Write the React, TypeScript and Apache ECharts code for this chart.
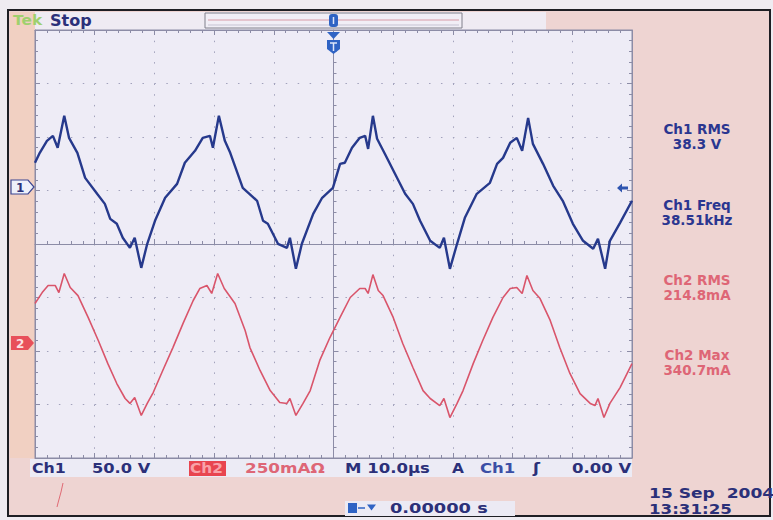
import React, { useEffect, useRef } from 'react';
import * as echarts from 'echarts';

// Ch1 trace: time (µs, trigger at 0) and voltage (V)
const ch1Time = [
  -50.0, -49.2, -48.0, -47.0, -46.2, -45.1, -44.3, -42.9, -41.6, -39.6,
  -38.3, -37.4, -36.3, -35.3, -34.1, -33.3, -32.2, -31.2, -29.9, -28.2,
  -26.2, -24.9, -23.2, -21.9, -20.7, -20.2, -19.2, -18.2, -17.3, -15.2,
  -12.8, -11.8, -11.0, -9.3, -7.8, -7.3, -6.3, -5.3, -3.4, -1.9,
  -0.1, 1.1, 1.9, 3.1, 4.4, 5.3, 5.8, 6.6, 7.3, 8.6,
  10.3, 12.0, 13.3, 14.5, 16.2, 17.8, 18.5, 19.5, 20.7, 22.0,
  24.0, 26.2, 27.4, 28.4, 29.6, 30.7, 31.6, 32.6, 33.4, 35.1,
  36.8, 38.4, 40.1, 41.8, 43.5, 44.3, 45.5, 46.3, 48.0, 50.0,
];
const ch1Volts = [
  23.4, 32.7, 43.9, 48.6, 37.4, 67.3, 46.7, 32.7, 9.3, -5.6,
  -15.0, -29.0, -33.6, -46.7, -56.1, -46.7, -74.8, -52.3, -30.8, -9.3,
  3.7, 23.4, 34.6, 46.7, 48.6, 37.4, 67.3, 43.9, 32.7, 0,
  -12.1, -30.8, -33.6, -52.3, -56.1, -46.7, -75.7, -52.3, -24.3, -9.3,
  0, 22.4, 23.4, 37.4, 46.7, 48.6, 36.4, 67.3, 45.8, 31.8,
  13.1, -5.6, -15.0, -30.8, -49.5, -56.1, -46.7, -75.7, -52.3, -28.0,
  -5.6, 4.7, 22.4, 28.0, 42.1, 46.7, 34.6, 65.4, 41.1, 22.4,
  1.9, -12.1, -33.6, -49.5, -57.0, -47.7, -75.7, -49.5, -32.7, -12.1,
];

// Ch2 trace: time (µs) and current (mA)
const ch2Time = [
  -50.0, -48.8, -47.8, -46.6, -46.0, -45.1, -44.1, -42.8, -41.1, -39.4,
  -37.8, -36.3, -34.9, -34.1, -33.3, -32.2, -31.2, -30.2, -28.6, -26.9,
  -25.2, -23.5, -22.4, -21.2, -20.4, -19.4, -18.3, -16.5, -14.8, -14.0,
  -12.3, -10.6, -9.0, -7.8, -7.3, -6.3, -5.1, -3.9, -2.3, -0.6,
  1.1, 2.8, 4.4, 5.3, 5.8, 6.6, 7.5, 8.3, 10.0, 11.6,
  13.3, 15.0, 16.2, 17.8, 18.5, 19.5, 20.7, 21.7, 23.4, 25.0,
  26.7, 28.4, 29.6, 30.7, 31.6, 32.4, 33.4, 34.6, 36.3, 37.9,
  39.6, 41.3, 43.0, 43.8, 44.3, 45.3, 46.3, 48.0, 50.0,
];
const ch2MilliAmps = [
  187, 238, 271, 271, 238, 327, 262, 224, 122, 14,
  -94, -187, -257, -280, -252, -336, -280, -229, -126, -19,
  94, 201, 257, 271, 234, 327, 257, 187, 61, -19,
  -126, -220, -276, -280, -257, -336, -280, -220, -79, 28,
  122, 215, 257, 257, 234, 322, 248, 224, 122, 0,
  -112, -220, -257, -290, -257, -346, -280, -220, -94, 14,
  122, 215, 257, 262, 234, 318, 248, 210, 108, -19,
  -140, -234, -280, -290, -257, -346, -280, -206, -94,
];

const measurementLabels = ['Ch1 RMS', 'Ch1 Freq', 'Ch2 RMS', 'Ch2 Max'];
const measurementValues = ['38.3 V', '38.51kHz', '214.8mA', '340.7mA'];

const ch1VoltsPerDiv = 50;
const ch2MilliAmpsPerDiv = 250;
const ch1GroundDiv = 1.05;
const ch2GroundDiv = -1.86;

const NAVY = '#2b3079';
const RED_TXT = '#de6676';
const FONT = '"DejaVu Sans", Verdana, sans-serif';

function txt(text: string, x: number, y: number, fill: string, size: number, scaleX = 1, align = 'left') {
  return {
    type: 'text',
    x,
    y,
    scaleX,
    z: 20,
    style: {
      text,
      fill,
      fontSize: size,
      fontWeight: 'bold',
      fontFamily: FONT,
      align,
      textAlign: align,
      verticalAlign: 'middle',
      textVerticalAlign: 'middle',
    },
  };
}

export default function App() {
  const ref = useRef<HTMLDivElement>(null);
  useEffect(() => {
    if (!ref.current) return;
    const chart = echarts.init(ref.current, null, { renderer: 'svg' });

    const ch1Data = ch1Time.map((t, i) => [t, ch1Volts[i] / ch1VoltsPerDiv + ch1GroundDiv]);
    const ch2Data = ch2Time.map((t, i) => [t, ch2MilliAmps[i] / ch2MilliAmpsPerDiv + ch2GroundDiv]);

    const axisColor = '#8c8ca6';
    const gridDot = '#a2a2bc';
    const baseX = { type: 'value', min: -50, max: 50, interval: 10, axisLabel: { show: false } };
    const baseY = { type: 'value', min: -4, max: 4, interval: 1, axisLabel: { show: false } };
    const tick = { show: true, inside: true, length: 5, lineStyle: { color: axisColor } };
    const minor = { show: true, splitNumber: 5, length: 3, lineStyle: { color: axisColor } };

    const graphics: any[] = [];
    // frame background
    graphics.push({ type: 'rect', z: -10, shape: { x: 8, y: 10, width: 762, height: 506 }, style: { fill: '#eed4d2', stroke: '#1e1e24', lineWidth: 2 } });
    // top strip
    graphics.push({ type: 'rect', z: -9, shape: { x: 35, y: 12, width: 511, height: 18 }, style: { fill: '#efebf3' } });
    // left peach strip
    graphics.push({ type: 'rect', z: -9, shape: { x: 10, y: 12, width: 25, height: 446 }, style: { fill: '#f1d0c2' } });
    // record view box
    graphics.push({ type: 'rect', z: -8, shape: { x: 205, y: 13, width: 257, height: 15 }, style: { fill: '#f1eef6', stroke: '#80808c', lineWidth: 1 } });
    graphics.push({ type: 'line', z: -7, shape: { x1: 208, y1: 20, x2: 459, y2: 20 }, style: { stroke: '#d89aa6', lineWidth: 1 } });
    graphics.push({ type: 'line', z: -7, shape: { x1: 208, y1: 25, x2: 459, y2: 25 }, style: { stroke: '#c6c3d3', lineWidth: 1 } });
    // status bar
    graphics.push({ type: 'rect', z: -9, shape: { x: 30, y: 459, width: 602, height: 18 }, style: { fill: '#ecebf5' } });
    graphics.push({ type: 'rect', z: -8, shape: { x: 189, y: 461, width: 37, height: 15 }, style: { fill: '#e8454f' } });
    // bottom time box
    graphics.push({ type: 'rect', z: -9, shape: { x: 345, y: 501, width: 170, height: 15 }, style: { fill: '#eceaf4' } });

    // header texts
    graphics.push(txt('Tek', 13, 20, '#9fd06e', 14, 1.1));
    graphics.push(txt('Stop', 50, 20, NAVY, 16, 1));

    // trigger position markers
    graphics.push({ type: 'rect', z: 20, shape: { x: 329, y: 14, width: 9, height: 13, r: 3 }, style: { fill: '#2f63c4' } });
    graphics.push({ type: 'line', z: 21, shape: { x1: 333.5, y1: 17, x2: 333.5, y2: 24 }, style: { stroke: '#dfe6fa', lineWidth: 1.5 } });
    graphics.push({ type: 'polygon', z: 20, shape: { points: [[327, 32], [340, 32], [333.5, 39]] }, style: { fill: '#2f63c4' } });
    graphics.push({ type: 'polygon', z: 20, shape: { points: [[327, 40], [340, 40], [340, 49], [333.5, 54], [327, 49]] }, style: { fill: '#2f63c4' } });
    graphics.push({ type: 'line', z: 21, shape: { x1: 330, y1: 43, x2: 337, y2: 43 }, style: { stroke: '#dfe6fa', lineWidth: 1.5 } });
    graphics.push({ type: 'line', z: 21, shape: { x1: 333.5, y1: 43, x2: 333.5, y2: 51 }, style: { stroke: '#dfe6fa', lineWidth: 1.5 } });

    // trigger level arrow
    graphics.push({ type: 'polygon', z: 20, shape: { points: [[617, 188], [622, 183.5], [622, 186.5], [628, 186.5], [628, 189.5], [622, 189.5], [622, 192.5]] }, style: { fill: '#2f55b0' } });

    // channel ground markers
    graphics.push({ type: 'polygon', z: 20, shape: { points: [[11, 180], [28, 180], [34, 187], [28, 194], [11, 194]] }, style: { fill: '#eef0fa', stroke: '#3a4592', lineWidth: 1.2 } });
    graphics.push(txt('1', 16, 187.5, NAVY, 12, 1));
    graphics.push({ type: 'polygon', z: 20, shape: { points: [[11, 336], [28, 336], [34, 343], [28, 350], [11, 350]] }, style: { fill: '#e8505a' } });
    graphics.push(txt('2', 16, 343.5, '#fbe0e2', 12, 1));

    // measurement panel
    const mY = [129, 205, 280, 355];
    measurementLabels.forEach((lab, i) => {
      const col = i < 2 ? '#2a3690' : RED_TXT;
      graphics.push(txt(lab, 697, mY[i], col, 13.5, 1, 'center'));
      graphics.push(txt(measurementValues[i], 697, mY[i] + 15, col, 13.5, 1, 'center'));
    });

    // status bar texts
    const sy = 468;
    graphics.push(txt('Ch1', 32, sy, NAVY, 14, 1.13));
    graphics.push(txt('50.0 V', 92, sy, NAVY, 14, 1.16));
    graphics.push(txt('Ch2', 190, sy, '#f8a2a8', 14, 1.1));
    graphics.push(txt('250mAΩ', 245, sy, RED_TXT, 14, 1.2));
    graphics.push(txt('M 10.0µs', 345, sy, NAVY, 14, 1.18));
    graphics.push(txt('A', 452, sy, NAVY, 14, 1.1));
    graphics.push(txt('Ch1', 480, sy, '#3b4fa6', 14, 1.18));
    graphics.push(txt('ʃ', 533, sy, NAVY, 14, 1.2));
    graphics.push(txt('0.00 V', 572, sy, NAVY, 14, 1.18));

    // bottom row
    graphics.push({ type: 'rect', z: 20, shape: { x: 348, y: 503, width: 9, height: 10 }, style: { fill: '#2f63c4' } });
    graphics.push({ type: 'line', z: 20, shape: { x1: 358, y1: 508, x2: 365, y2: 508 }, style: { stroke: '#2f63c4', lineWidth: 1.5 } });
    graphics.push({ type: 'polygon', z: 20, shape: { points: [[367, 504.5], [376, 504.5], [371.5, 510.5]] }, style: { fill: '#2f63c4' } });
    graphics.push(txt('0.00000 s', 390, 508.5, NAVY, 14, 1.27));
    graphics.push(txt('15 Sep  2004', 649, 494, NAVY, 14, 1.22));
    graphics.push(txt('13:31:25', 649, 509, NAVY, 14, 1.19));

    // pen mark
    graphics.push({ type: 'polyline', z: 20, shape: { points: [[63, 483], [61, 492], [58, 503], [57, 507]] }, style: { stroke: '#e06a74', lineWidth: 1, fill: 'none' } });

    chart.setOption({
      animation: false,
      backgroundColor: '#efebf1',
      grid: {
        left: 35, top: 30, width: 597, height: 428,
        show: true, backgroundColor: '#eeecf6', borderColor: '#8c8ca6', borderWidth: 1,
      },
      xAxis: [
        {
          ...baseX, position: 'bottom',
          axisLine: { show: true, onZero: true, lineStyle: { color: axisColor } },
          axisTick: tick, minorTick: minor,
          splitLine: { show: true, lineStyle: { color: gridDot, width: 1, type: [1.5, 9.2] } },
        },
        { ...baseX, position: 'top', axisLine: { show: true, onZero: false, lineStyle: { color: axisColor } }, axisTick: tick, minorTick: minor, splitLine: { show: false } },
        { ...baseX, position: 'bottom', axisLine: { show: true, onZero: false, lineStyle: { color: axisColor } }, axisTick: tick, minorTick: minor, splitLine: { show: false } },
      ],
      yAxis: [
        {
          ...baseY, position: 'left',
          axisLine: { show: true, onZero: true, lineStyle: { color: axisColor } },
          axisTick: tick, minorTick: minor,
          splitLine: { show: true, lineStyle: { color: gridDot, width: 1, type: [1.5, 10.44] } },
        },
        { ...baseY, position: 'left', axisLine: { show: true, onZero: false, lineStyle: { color: axisColor } }, axisTick: tick, minorTick: minor, splitLine: { show: false } },
        { ...baseY, position: 'right', axisLine: { show: true, onZero: false, lineStyle: { color: axisColor } }, axisTick: tick, minorTick: minor, splitLine: { show: false } },
      ],
      series: [
        {
          type: 'line', name: 'Ch1', xAxisIndex: 0, yAxisIndex: 0, data: ch1Data,
          symbol: 'none', showSymbol: false, z: 5,
          lineStyle: { color: '#26398c', width: 2.4 },
        },
        {
          type: 'line', name: 'Ch2', xAxisIndex: 0, yAxisIndex: 0, data: ch2Data,
          symbol: 'none', showSymbol: false, z: 5,
          lineStyle: { color: '#d9556b', width: 1.6 },
        },
      ],
      graphic: { elements: graphics },
    });
    return () => chart.dispose();
  }, []);
  return <div ref={ref} style={{ position: 'fixed', left: 0, top: 0, width: 773, height: 520 }} />;
}
